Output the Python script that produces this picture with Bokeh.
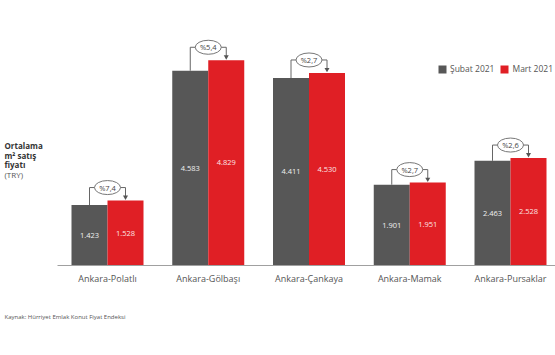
from bokeh.plotting import figure
from bokeh.models import Range1d, Label, Legend, LegendItem, ColumnDataSource
from bokeh.core.properties import value
from bokeh.embed import file_html
from bokeh.resources import INLINE

categories = ["Ankara-Polatlı", "Ankara-Gölbaşı", "Ankara-Çankaya", "Ankara-Mamak", "Ankara-Pursaklar"]
subat = [1423, 4583, 4411, 1901, 2463]
mart = [1528, 4829, 4530, 1951, 2528]
subat_labels = ["1.423", "4.583", "4.411", "1.901", "2.463"]
mart_labels = ["1.528", "4.829", "4.530", "1.951", "2.528"]
change = ["%7,4", "%5,4", "%2,7", "%2,7", "%2,6"]
series_names = ["Şubat 2021", "Mart 2021"]

GREY = "#575757"
RED = "#e01f25"
FONT = "Open Sans"

W, H = 555, 350
# pixel geometry
X0PX, XSTEP = 107.0, 100.75      # first category centre, category spacing (px)
BASE_PX, YPX = 265.0, 0.0425     # baseline (px from top), px per unit
UPP = 1.0 / YPX                  # units per px

x_start = -X0PX / XSTEP
x_end = (W - X0PX) / XSTEP
y_end = BASE_PX * UPP
y_start = -(H - BASE_PX) * UPP

p = figure(width=W, height=H, output_backend="svg", toolbar_location=None,
           x_range=Range1d(x_start, x_end), y_range=Range1d(y_start, y_end),
           min_border=0, min_border_left=0, min_border_right=0,
           min_border_top=0, min_border_bottom=0)
p.outline_line_color = None
p.xgrid.visible = False
p.ygrid.visible = False
p.xaxis.visible = False
p.yaxis.visible = False

bw = 36 / XSTEP
idx = list(range(len(categories)))
gx = [i - bw / 2 for i in idx]
rx = [i + bw / 2 for i in idx]

src = ColumnDataSource(dict(gx=gx, rx=rx, subat=subat, mart=mart,
                            sl=subat_labels, ml=mart_labels,
                            sy=[v * 0.5 for v in subat], my=[v * 0.5 for v in mart]))
g_r = p.vbar(x="gx", top="subat", width=bw, bottom=0, source=src, fill_color=GREY, line_color=None)
r_r = p.vbar(x="rx", top="mart", width=bw, bottom=0, source=src, fill_color=RED, line_color=None)

p.text(x="gx", y="sy", text="sl", source=src, text_align="center", text_baseline="middle",
       text_font=value(FONT), text_font_size="7.5px", text_color="#f0f0f0")
p.text(x="rx", y="my", text="ml", source=src, text_align="center", text_baseline="middle",
       text_font=value(FONT), text_font_size="7.5px", text_color="#fbe4e4")

# baseline
p.segment(x0=[(57 - X0PX) / XSTEP], y0=[0], x1=[x_end], y1=[0], line_color="#a0a0a0", line_width=1)

# category labels
p.text(x=idx, y=[-13 * UPP] * len(idx), text=categories, text_align="center", text_baseline="middle",
       text_font=value(FONT), text_font_size="9px", text_color="#555555")

# brackets
up = 13 * UPP
xs, ys = [], []
for i in idx:
    top = mart[i] + up
    xs.append([gx[i], gx[i], rx[i], rx[i]])
    ys.append([subat[i], top, top, mart[i] + 4 * UPP])
p.multi_line(xs=xs, ys=ys, line_color="#666666", line_width=1)
p.scatter(x=rx, y=[m + 3.5 * UPP for m in mart], marker="inverted_triangle", size=5,
          fill_color="#555555", line_color=None)
p.ellipse(x=idx, y=[m + up for m in mart], width=26, height=14,
          width_units="screen", height_units="screen",
          fill_color="white", line_color="#777777", line_width=1)
p.text(x=idx, y=[m + up for m in mart], text=change, text_align="center", text_baseline="middle",
       text_font=value(FONT), text_font_size="7.5px", text_color="#444444")

legend = Legend(items=[LegendItem(label=series_names[0], renderers=[g_r]),
                       LegendItem(label=series_names[1], renderers=[r_r])],
                orientation="horizontal", location=(437, H - 74),
                glyph_width=10, glyph_height=10, label_height=10, label_width=10,
                label_standoff=3, spacing=5, padding=0, margin=0,
                border_line_color=None, background_fill_alpha=0,
                label_text_font=FONT, label_text_font_size="8.5px", label_text_color="#555555")
p.add_layout(legend, "center")

# y title
ytitle = [("Ortalama", "bold"), ("m² satış", "bold"), ("fiyatı", "bold"), ("(TRY)", "normal")]
for k, (t, st) in enumerate(ytitle):
    p.add_layout(Label(x=4, y=H - 145 - 9.6 * k, x_units="screen", y_units="screen", text=t,
                       text_font=FONT, text_font_size="8px", text_font_style=st,
                       text_color="#333333" if st == "bold" else "#555555",
                       text_baseline="middle"))

p.add_layout(Label(x=4, y=H - 316, x_units="screen", y_units="screen",
                   text="Kaynak: Hürriyet Emlak Konut Fiyat Endeksi",
                   text_font=FONT, text_font_size="6px", text_color="#555555",
                   text_baseline="middle"))

open("out.html", "w").write(file_html(p, INLINE))
